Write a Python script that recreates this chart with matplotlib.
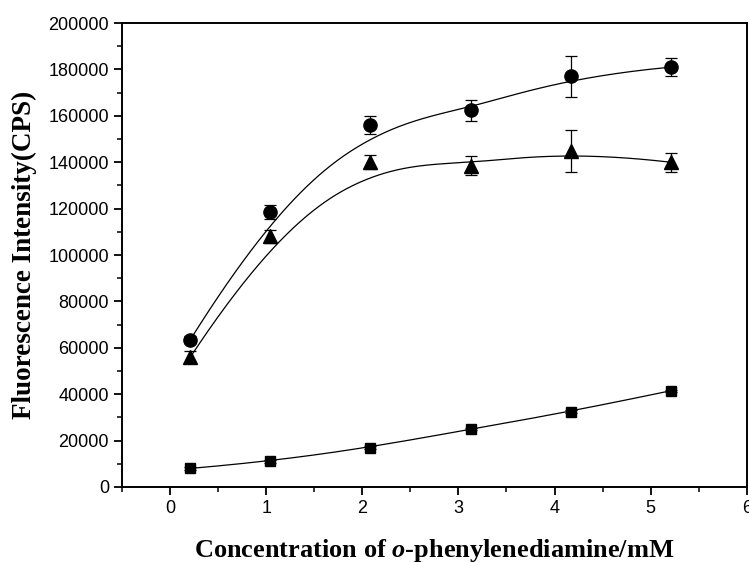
import numpy as np
import matplotlib
matplotlib.use("Agg")
import matplotlib.pyplot as plt
from matplotlib.ticker import MultipleLocator

plt.rcParams['mathtext.fontset'] = 'custom'
plt.rcParams['mathtext.it'] = 'Liberation Serif:italic:bold'

# concentration of o-phenylenediamine (mM)
conc = [0.21, 1.04, 2.08, 3.13, 4.17, 5.21]

circle_y = [63500, 118500, 156000, 162500, 177000, 181000]
circle_err = [1500, 3000, 4000, 4500, 9000, 4000]

tri_y = [56000, 108000, 140000, 138500, 145000, 140000]
tri_err = [2500, 3000, 3000, 4000, 9000, 4000]

square_y = [8000, 11000, 17000, 25000, 32500, 41500]
square_err = [500, 500, 500, 500, 500, 500]


def bspline(px, py, k=3, num=300):
    # clamped B-spline with the data points as control points (Origin style)
    px = np.asarray(px, float)
    py = np.asarray(py, float)
    n = len(px)
    inner = np.linspace(0, 1, n - k + 1)
    knots = np.concatenate([[0] * k, inner, [1] * k])
    u = np.linspace(0, 1, num)
    u[-1] -= 1e-9

    def basis(i, d, t):
        if d == 0:
            return ((knots[i] <= t) & (t < knots[i + 1])).astype(float)
        a = 0.0
        b = 0.0
        if knots[i + d] != knots[i]:
            a = (t - knots[i]) / (knots[i + d] - knots[i]) * basis(i, d - 1, t)
        if knots[i + d + 1] != knots[i + 1]:
            b = (knots[i + d + 1] - t) / (knots[i + d + 1] - knots[i + 1]) * basis(i + 1, d - 1, t)
        return a + b

    B = np.array([basis(i, k, u) for i in range(n)])
    return B.T @ px, B.T @ py


fig = plt.figure(figsize=(7.49, 5.63), dpi=100)
ax = fig.add_axes([0.163, 0.135, 0.834, 0.824])

for y, err, m, ms in [(circle_y, circle_err, 'o', 9.5),
                      (tri_y, tri_err, '^', 9.5),
                      (square_y, square_err, 's', 7.5)]:
    sx, sy = bspline(conc, y)
    ax.plot(sx, sy, color='black', lw=0.9)
    ax.errorbar(conc, y, yerr=err, fmt=m, color='black', ms=ms,
                ecolor='black', elinewidth=0.9, capsize=4, capthick=0.9)

ax.set_xlim(-0.5, 6)
ax.set_ylim(0, 200000)
ax.xaxis.set_major_locator(MultipleLocator(1))
ax.xaxis.set_minor_locator(MultipleLocator(0.5))
ax.yaxis.set_major_locator(MultipleLocator(20000))
ax.yaxis.set_minor_locator(MultipleLocator(10000))
ax.tick_params(which='major', direction='out', length=6, width=1.3,
               labelsize=13, top=False, right=False)
ax.tick_params(which='minor', direction='out', length=3.5, width=1.1)
for lab in ax.get_xticklabels() + ax.get_yticklabels():
    lab.set_family('Liberation Sans')
for s in ax.spines.values():
    s.set_linewidth(1.4)

ax.set_xlabel(r'Concentration of $\mathit{o}$-phenylenediamine/mM',
              family='Liberation Serif', fontweight='bold', fontsize=19,
              labelpad=14)
ax.set_ylabel('Fluorescence Intensity(CPS)', family='Liberation Serif',
              fontweight='bold', fontsize=19.5, labelpad=8)

fig.savefig('out.png', dpi=100)
